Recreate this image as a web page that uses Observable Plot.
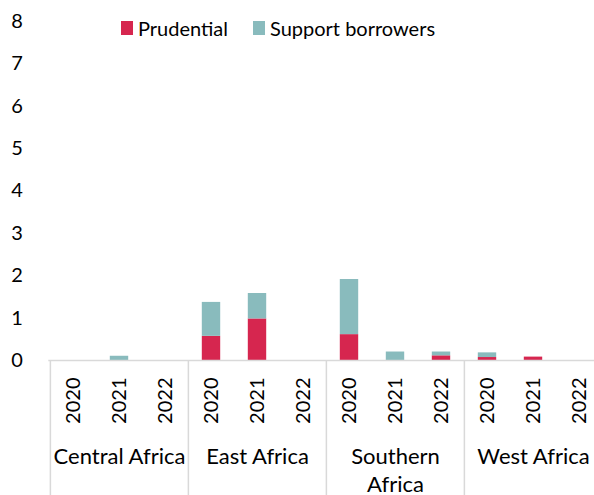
<!DOCTYPE html>
<html>
<head>
<meta charset="utf-8">
<script src="https://cdn.jsdelivr.net/npm/d3@7"></script>
<script src="https://cdn.jsdelivr.net/npm/@observablehq/plot@0.6"></script>
<style>
  html, body { margin: 0; padding: 0; background: #fff; overflow: hidden; }
  #wrap { position: relative; width: 594px; height: 495px; overflow: hidden; font-family: Lato, "Open Sans", sans-serif; }
  #wrap svg { max-width: none !important; display: block; }
  #legend { position: absolute; left: 121px; top: 16px; display: flex; align-items: center; font-size: 20px; color: #000; }
  #legend .item { display: flex; align-items: center; margin-right: 25px; }
  #legend .sw { width: 12px; height: 14px; margin-right: 5px; }
</style>
</head>
<body>
<div id="wrap"><div id="legend"></div></div>
<script>
const regions = ["Central Africa", "East Africa", "Southern Africa", "West Africa"];
const years = ["2020", "2021", "2022"];
const prudential = [0, 0, 0, 0.57, 0.98, 0, 0.61, 0, 0.11, 0.07, 0.08, 0];
const supportBorrowers = [0, 0.1, 0, 0.8, 0.6, 0, 1.3, 0.2, 0.09, 0.11, 0, 0];
const seriesNames = ["Prudential", "Support borrowers"];
const seriesColors = ["#d6264f", "#89bbbd"];
const yTicks = [0, 1, 2, 3, 4, 5, 6, 7, 8];

const rows = [];
const keys = [];
regions.forEach((r, i) => years.forEach((yr, j) => {
  const k = i * years.length + j;
  const key = r + "|" + yr;
  keys.push(key);
  rows.push({key, region: r, year: yr, series: seriesNames[0], value: prudential[k]});
  rows.push({key, region: r, year: yr, series: seriesNames[1], value: supportBorrowers[k]});
}));

const W = 603, H = 495, mL = 48.3, mR = 0, mT = 20.8, mB = 135;
const plotH = H - mT - mB;
const bw = (W - mL - mR) / keys.length;
const fs = 20;

const chart = Plot.plot({
  width: W, height: H,
  marginLeft: mL, marginRight: mR, marginTop: mT, marginBottom: mB,
  style: {fontFamily: "Lato, 'Open Sans', sans-serif", fontSize: fs + "px", color: "#000", background: "#fff", overflow: "hidden"},
  x: {domain: keys, padding: 0},
  y: {domain: [yTicks[0], yTicks[yTicks.length - 1]]},
  color: {domain: seriesNames, range: seriesColors},
  marks: [
    Plot.axisY({ticks: yTicks, tickSize: 0, tickPadding: 26, label: null, fontSize: fs}),
    Plot.axisX({tickFormat: d => d.split("|")[1], tickRotate: -90, tickSize: 0, tickPadding: 17, label: null, fontSize: fs}),
    Plot.barY(rows, {x: "key", y: "value", fill: "series", insetLeft: 13.8, insetRight: 13.8}),
    Plot.ruleY([0], {stroke: "#d9d9d9", strokeWidth: 1.5}),
    Plot.ruleX(regions, {x: r => r + "|" + years[0], dx: -bw / 2, stroke: "#d9d9d9", strokeWidth: 1.5, insetTop: plotH, insetBottom: -mB}),
    Plot.text(regions, {x: r => r + "|" + years[1], frameAnchor: "bottom", text: r => r.length > 14 ? r.replace(" ", "\n") : r, lineAnchor: "top", lineHeight: 1.3, dy: 83, fontSize: 22, fill: "#000"})
  ]
});
document.getElementById("wrap").prepend(chart);

const legend = document.getElementById("legend");
seriesNames.forEach((name, i) => {
  const item = document.createElement("div");
  item.className = "item";
  const sw = document.createElement("div");
  sw.className = "sw";
  sw.style.background = seriesColors[i];
  const label = document.createElement("span");
  label.textContent = name;
  item.append(sw, label);
  legend.append(item);
});
</script>
</body>
</html>
